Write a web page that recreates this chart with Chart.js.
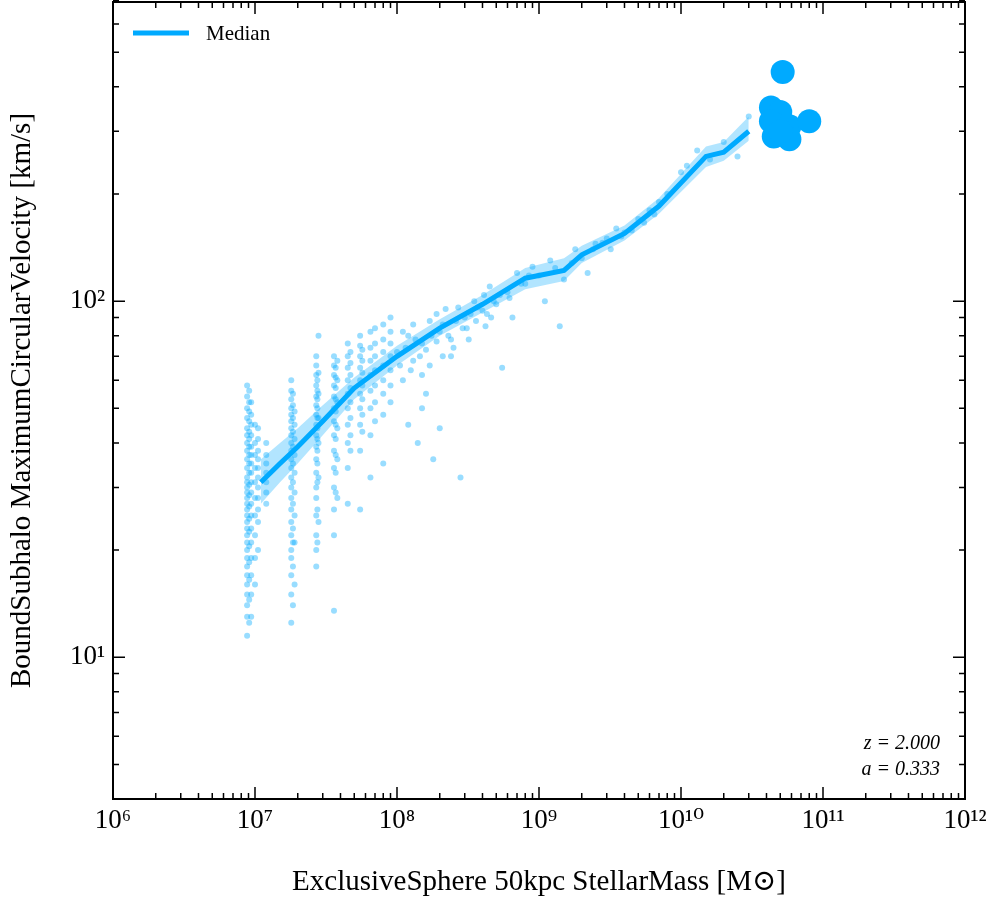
<!DOCTYPE html>
<html><head><meta charset="utf-8">
<script src="https://cdn.jsdelivr.net/npm/chart.js@4"></script>
<style>body{margin:0;background:#fff;overflow:hidden}#wrap{width:996px;height:910px;margin-top:-10px}</style>
</head><body><div id="wrap"><canvas id="c"></canvas></div>
<script>
// scatter columns: x position and y values
const colX = [8.8e6, 9.1e6, 9.4e6, 1.0e7, 1.05e7, 1.2e7, 1.8e7, 1.85e7, 1.9e7, 2.7e7, 2.75e7, 2.8e7, 3.6e7, 3.7e7, 3.8e7, 4.5e7, 4.7e7, 5.5e7, 5.7e7, 6.5e7, 7e7, 8e7, 9e7];
const colY = [
  [11.5, 13, 14, 15, 16, 17, 18, 19, 20, 21, 22, 23, 24, 25, 26, 27, 28, 29, 30, 31, 32, 34, 36, 38, 40, 42, 44, 47, 50, 54, 58],
  [12.5, 14.5, 16.5, 18.5, 20.5, 22.5, 24.5, 26.5, 28.5, 30.5, 33, 35, 37, 39, 41, 43, 46, 49, 52, 56],
  [13, 15, 17, 19, 21, 23, 25, 27, 29, 31, 33, 35, 37, 39, 42, 45, 48, 52],
  [16, 19, 22, 25, 28, 31, 34, 37, 40, 45],
  [20, 24, 26, 28, 30, 32, 34, 36, 38, 41, 44],
  [27, 29, 31, 33, 35, 37, 40],
  [12.5, 15, 17, 19, 20, 22, 24, 26, 28, 30, 32, 34, 36, 38, 40, 42, 44, 46, 48, 50, 53, 56, 60],
  [14, 18, 21, 23, 27, 31, 35, 39, 43, 47, 51, 55],
  [16, 21, 25, 29, 33, 37, 41, 45, 49],
  [18, 20, 22, 25, 28, 30, 33, 36, 39, 42, 45, 48, 51, 54, 58, 62, 66, 70],
  [21, 26, 31, 35, 38, 41, 44, 47, 50, 53, 56, 60],
  [24, 32, 40, 47, 55, 63, 80],
  [13.5, 22, 26, 30, 34, 38, 42, 46, 50, 54, 58, 62, 66, 70],
  [29, 33, 37, 41, 45, 49, 53, 57, 61, 65],
  [28, 36, 44, 52, 60, 68],
  [27, 34, 40, 45, 50, 55, 60, 65, 70, 76],
  [38, 42, 47, 52, 57, 62, 67, 72],
  [26, 38, 45, 50, 55, 60, 65, 70, 75, 80],
  [43, 48, 53, 58, 63, 68, 73],
  [32, 42, 50, 56, 62, 68, 74, 82],
  [46, 52, 58, 64, 70, 76, 84],
  [35, 48, 55, 60, 66, 72, 78, 86],
  [52, 58, 64, 70, 76, 82, 90]
];
// sparser cloud above 1e8
const cloudX = [1e8, 1.1e8, 1.2e8, 1.3e8, 1.5e8, 1.7e8, 2e8, 2.2e8, 2.5e8, 3e8, 3.5e8, 4e8, 4.5e8, 5e8, 6e8, 7e8, 8e8, 9e8, 1e9, 1.2e9, 1.5e9, 1.8e9, 2e9, 2.5e9, 3e9, 3.5e9, 4e9, 5e9, 6e9, 7e9, 1e10, 1.3e10, 1.6e10, 2e10, 2.5e10, 3e10, 1.2e8, 1.6e8, 2.4e8, 3.2e8, 4.2e8, 6.5e8, 1.1e9, 1.4e9, 2.2e9, 3.2e9, 1.4e8, 1.8e8, 2.8e8, 5.5e8, 1.5e8, 2e8,
  1.05e8, 1.15e8, 1.25e8, 1.35e8, 1.45e8, 1.6e8, 1.75e8, 1.9e8, 2.1e8, 2.3e8, 2.6e8, 2.9e8, 3.3e8, 3.7e8, 4.3e8, 4.8e8, 5.3e8, 6.2e8, 7.5e8, 8.5e8, 1.3e9, 1.7e9, 2.4e9, 2.8e9, 3.8e9, 4.5e9, 5.5e9, 6.5e9, 8e9, 1.1e10,
  1.1e8, 1.3e8, 1.5e8, 1.7e8, 1.9e8, 2.1e8, 2.4e8, 2.7e8, 3.1e8, 3.6e8, 4.1e8, 4.6e8];
const cloudY = [72, 60, 80, 68, 76, 88, 82, 95, 74, 90, 100, 94, 110, 98, 106, 120, 112, 125, 118, 130, 115, 140, 132, 145, 150, 160, 156, 170, 180, 190, 230, 265, 250, 280, 255, 330, 45, 55, 70, 78, 85, 90, 100, 85, 120, 140, 40, 36, 32, 65, 50, 44,
  66, 74, 64, 78, 70, 73, 80, 77, 86, 80, 88, 84, 92, 96, 92, 100, 104, 102, 112, 118, 124, 128, 140, 146, 152, 158, 166, 175, 200, 240,
  82, 86, 62, 66, 92, 70, 78, 96, 84, 88, 104, 90];
// median and spread
const medX = [1.1e7, 1.5e7, 2e7, 3e7, 5e7, 1e8, 2e8, 4e8, 8e8, 1.5e9, 2e9, 4e9, 7e9, 1.5e10, 2e10, 3e10];
const medY = [31, 35, 39, 46, 57, 70, 84, 98, 116, 122, 135, 155, 185, 255, 262, 300];
const medLo = [27, 31, 35, 42, 53, 66, 80, 93, 108, 114, 128, 148, 176, 238, 248, 282];
const medHi = [36, 40, 44, 51, 61, 75, 89, 104, 124, 132, 143, 163, 195, 272, 280, 330];
// massive objects
const bigX = [5.2e10, 4.3e10, 5e10, 4.3e10, 5.8e10, 8e10, 4.5e10, 5.8e10, 5e10];
const bigY = [440, 350, 340, 320, 310, 320, 290, 285, 300];

const scatter = [];
colX.forEach((x, i) => colY[i].forEach(y => scatter.push({x, y})));
cloudX.forEach((x, i) => scatter.push({x, y: cloudY[i]}));
const C = '#00aaff';
const serif = '"Liberation Serif", "DejaVu Serif", serif';

const sup = {'0':'⁰','1':'¹','2':'²','3':'³','4':'⁴','5':'⁵','6':'⁶','7':'⁷','8':'⁸','9':'⁹'};
function frame(chart) {
  const {ctx, chartArea: a, scales: {x, y}} = chart;
  ctx.save();
  ctx.strokeStyle = '#000';
  ctx.lineWidth = 2;
  ctx.strokeRect(a.left, a.top, a.right - a.left, a.bottom - a.top);
  ctx.lineWidth = 1.5;
  const tick = (p, len, horiz) => {
    ctx.beginPath();
    if (horiz) { ctx.moveTo(p, a.bottom); ctx.lineTo(p, a.bottom - len); ctx.moveTo(p, a.top); ctx.lineTo(p, a.top + len); }
    else { ctx.moveTo(a.left, p); ctx.lineTo(a.left + len, p); ctx.moveTo(a.right, p); ctx.lineTo(a.right - len, p); }
    ctx.stroke();
  };
  ctx.fillStyle = '#000';
  ctx.font = '27px ' + serif;
  for (let e = 6; e <= 12; e++) {
    for (let m = 1; m < 10; m++) {
      const v = m * Math.pow(10, e);
      if (v > 1e12) break;
      tick(x.getPixelForValue(v), m === 1 ? 12 : 6, true);
    }
    const px = x.getPixelForValue(Math.pow(10, e));
    ctx.textAlign = 'center'; ctx.textBaseline = 'top';
    ctx.fillText('10' + String(e).split('').map(d => sup[d]).join(''), px, a.bottom + 8);
  }
  for (let e = 0; e <= 2; e++) {
    for (let m = 1; m < 10; m++) {
      const v = m * Math.pow(10, e);
      if (v < 4 || v > 700) continue;
      tick(y.getPixelForValue(v), m === 1 ? 12 : 6, false);
    }
  }
  ctx.textAlign = 'right'; ctx.textBaseline = 'middle';
  ctx.fillText('10²', a.left - 8, y.getPixelForValue(100));
  ctx.fillText('10¹', a.left - 8, y.getPixelForValue(10));
  ctx.font = '29px ' + serif;
  ctx.textAlign = 'center'; ctx.textBaseline = 'alphabetic';
  ctx.fillText('ExclusiveSphere 50kpc StellarMass [M\u2299]', (a.left + a.right) / 2, a.bottom + 91);
  ctx.save();
  ctx.translate(30, (a.top + a.bottom) / 2);
  ctx.rotate(-Math.PI / 2);
  ctx.fillText('BoundSubhalo MaximumCircularVelocity [km/s]', 0, 0);
  ctx.restore();
  ctx.font = 'italic 20px ' + serif;
  ctx.textAlign = 'right';
  ctx.fillText('z = 2.000', a.right - 25, a.bottom - 50);
  ctx.fillText('a = 0.333', a.right - 25, a.bottom - 24);
  // legend
  ctx.strokeStyle = C; ctx.lineWidth = 5;
  ctx.beginPath(); ctx.moveTo(a.left + 20, a.top + 31); ctx.lineTo(a.left + 76, a.top + 31); ctx.stroke();
  ctx.font = '21px ' + serif; ctx.textAlign = 'left'; ctx.textBaseline = 'middle';
  ctx.fillText('Median', a.left + 93, a.top + 32);
  ctx.restore();
}

new Chart(document.getElementById('c'), {
  type: 'scatter',
  data: {
    datasets: [
      {data: scatter, backgroundColor: 'rgba(0,170,255,0.4)', borderWidth: 0, pointRadius: 3, order: 3},
      {type: 'line', data: medX.map((x, i) => ({x, y: medLo[i]})), borderWidth: 0, pointRadius: 0, fill: false, order: 2},
      {type: 'line', data: medX.map((x, i) => ({x, y: medHi[i]})), borderWidth: 0, pointRadius: 0, fill: '-1', backgroundColor: 'rgba(0,170,255,0.3)', order: 2},
      {type: 'line', data: medX.map((x, i) => ({x, y: medY[i]})), borderColor: C, borderWidth: 5, pointRadius: 0, order: 1},
      {data: bigX.map((x, i) => ({x, y: bigY[i]})), backgroundColor: C, borderWidth: 0, pointRadius: 12, order: 0}
    ]
  },
  options: {
    responsive: true, maintainAspectRatio: false, animation: false,
    layout: {padding: {left: 113, right: 31, top: 0, bottom: 101}},
    plugins: {legend: {display: false}, tooltip: {enabled: false}},
    scales: {
      x: {type: 'logarithmic', min: 1e6, max: 1e12, display: false},
      y: {type: 'logarithmic', min: 4, max: 692, display: false}
    }
  },
  plugins: [{id: 'frame', afterDraw: frame}]
});
</script></body></html>
